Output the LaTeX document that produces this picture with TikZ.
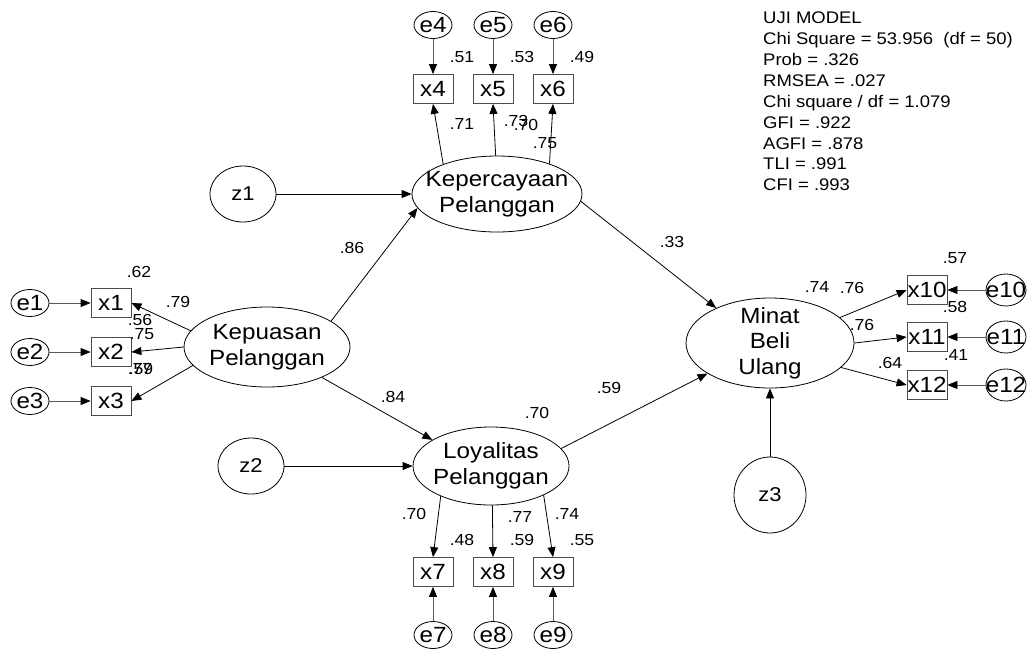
\documentclass[tikz,border=0pt]{standalone}
\usepackage{fontspec}
\setmainfont{Liberation Sans}[FakeStretch=1.1]
\usetikzlibrary{shapes.geometric,arrows.meta}
\begin{document}
\begin{tikzpicture}[x=1pt,y=-1pt,
  every node/.style={inner sep=0pt},
  lat/.style={draw, ellipse, line width=0.8pt},
  lattext/.style={align=center, font=\fontsize{22}{25.5}\selectfont},
  obs/.style={draw=black!70, rectangle, minimum width=40pt, minimum height=29pt, line width=0.8pt, font=\fontsize{22}{24}\selectfont},
  err/.style={draw, ellipse, minimum width=38pt, minimum height=27pt, line width=0.8pt, font=\fontsize{22}{24}\selectfont},
  dist/.style={draw, ellipse, line width=0.8pt, font=\fontsize{20}{24}\selectfont},
  lbl/.style={font=\fontsize{16}{18}\selectfont},
  arr/.style={-{Triangle[length=10pt,width=8pt]}, line width=0.8pt},
  earr/.style={-{Triangle[length=10pt,width=8pt,color=black]}, line width=0.8pt, draw=black!65},
]
\useasboundingbox (0,0) rectangle (1030,654);

% latent variables
\node[lat, minimum width=170pt, minimum height=76pt, label={[lattext]center:Kepercayaan\\Pelanggan}] (kc) at (497,194) {};
\node[lat, minimum width=166pt, minimum height=80pt, label={[lattext]center:Kepuasan\\Pelanggan}] (kp) at (267,347) {};
\node[lat, minimum width=156pt, minimum height=78pt, label={[lattext]center:Loyalitas\\Pelanggan}] (ly) at (491,466) {};
\node[lat, minimum width=168pt, minimum height=90pt, label={[lattext]center:Minat\\Beli\\Ulang}] (mn) at (770,343) {};

% disturbances
\node[dist, minimum width=66pt, minimum height=56pt] (z1) at (243,194) {z1};
\node[dist, minimum width=66pt, minimum height=56pt] (z2) at (251,466) {z2};
\node[dist, minimum width=72pt, minimum height=76pt] (z3) at (770,495) {z3};

% indicators left
\node[obs] (x1) at (111,303) {x1};
\node[obs] (x2) at (111,352) {x2};
\node[obs] (x3) at (111,401) {x3};
\node[err] (e1) at (30,303) {\makebox[0pt]{e1}};
\node[err] (e2) at (30,352) {\makebox[0pt]{e2}};
\node[err] (e3) at (30,401) {\makebox[0pt]{e3}};

% indicators top
\node[obs] (x4) at (433,89) {x4};
\node[obs] (x5) at (493,89) {x5};
\node[obs] (x6) at (553,89) {x6};
\node[err] (e4) at (433,25) {\makebox[0pt]{e4}};
\node[err] (e5) at (493,25) {\makebox[0pt]{e5}};
\node[err] (e6) at (553,25) {\makebox[0pt]{e6}};

% indicators bottom
\node[obs] (x7) at (433,572) {x7};
\node[obs] (x8) at (493,572) {x8};
\node[obs] (x9) at (553,572) {x9};
\node[err] (e7) at (433,635) {\makebox[0pt]{e7}};
\node[err] (e8) at (493,635) {\makebox[0pt]{e8}};
\node[err] (e9) at (553,635) {\makebox[0pt]{e9}};

% indicators right
\node[obs] (x10) at (927,290) {\makebox[0pt]{x10}};
\node[obs] (x11) at (927,337) {\makebox[0pt]{x11}};
\node[obs] (x12) at (927,385) {\makebox[0pt]{x12}};
\node[err, minimum width=40pt, minimum height=32pt] (e10) at (1006,290) {\makebox[0pt]{e10}};
\node[err, minimum width=40pt, minimum height=32pt] (e11) at (1006,337) {\makebox[0pt]{e11}};
\node[err, minimum width=40pt, minimum height=32pt] (e12) at (1006,385) {\makebox[0pt]{e12}};

% structural paths
\draw[arr] (z1) -- (kc);
\draw[arr] (z2) -- (ly);
\draw[arr] (z3) -- (mn);
\draw[arr] (kp.22) -- (kc.190);
\draw[arr] (kp.-29) -- (ly.156);
\draw[arr] (kc.-5) -- (mn.147.5);
\draw[arr] (ly.14) -- (mn.206);

% measurement paths
\draw[arr] (kp.168) -- (x1.east);
\draw[arr] (kp.180) -- (x2.east);
\draw[arr] (kp.194.6) -- (x3.east);
\draw[earr] (e1) -- (x1);
\draw[earr] (e2) -- (x2);
\draw[earr] (e3) -- (x3);

\draw[arr] (kc.151.5) -- (x4.south);
\draw[arr] (kc.92) -- (x5.south);
\draw[arr] (kc.30.8) -- (x6.south);
\draw[earr] (e4) -- (x4);
\draw[earr] (e5) -- (x5);
\draw[earr] (e6) -- (x6);

\draw[arr] (ly.211.7) -- (x7.north);
\draw[arr] (ly.-88) -- (x8.north);
\draw[arr] (ly.-29.1) -- (x9.north);
\draw[earr] (e7) -- (x7);
\draw[earr] (e8) -- (x8);
\draw[earr] (e9) -- (x9);

\draw[arr] (mn.20.4) -- (x10.west);
\draw[arr] (mn.0) -- (x11.west);
\draw[arr] (mn.-19) -- (x12.west);
\draw[earr] (e10) -- (x10);
\draw[earr] (e11) -- (x11);
\draw[earr] (e12) -- (x12);

% estimates
\node[lbl] (l62) at (139,272) {.62};
\node[lbl] (l79) at (178,302) {.79};
\node[lbl] (l56) at (140,320) {.56};
\node[lbl] (l75a) at (142,334) {.75};
\node[lbl] (l77a) at (140,369) {.77};
\node[lbl] (l59a) at (141,369) {.59};

\node[lbl] (l51) at (462,57) {.51};
\node[lbl] (l53) at (522,57) {.53};
\node[lbl] (l49) at (582,57) {.49};
\node[lbl] (l71) at (462,124) {.71};
\node[lbl] (l73) at (516,121) {.73};
\node[lbl] (l70a) at (526,125) {.70};
\node[lbl] (l75b) at (545,143) {.75};

\node[lbl] (l86) at (352,248) {.86};
\node[lbl] (l84) at (393,397) {.84};
\node[lbl] (l70b) at (537,413) {.70};
\node[lbl] (l59b) at (609,388) {.59};
\node[lbl] (l33) at (672,242) {.33};

\node[lbl] (l74a) at (817,287) {.74};
\node[lbl] (l76a) at (852,288) {.76};
\node[lbl] (l57) at (955,258) {.57};
\node[lbl] (l58) at (955,307) {.58};
\node[lbl] (l76b) at (862,325) {.76};
\node[lbl] (l41) at (956,355) {.41};
\node[lbl] (l64) at (890,363) {.64};

\node[lbl] (l70c) at (414,514) {.70};
\node[lbl] (l77b) at (520,517) {.77};
\node[lbl] (l74b) at (567,514) {.74};
\node[lbl] (l48) at (462,540) {.48};
\node[lbl] (l59c) at (522,540) {.59};
\node[lbl] (l55) at (582,540) {.55};

% fit statistics
\node[anchor=west, align=left, font=\fontsize{16.8}{20.9}\selectfont] (fit) at (763,101.5)
 {UJI MODEL\\
  Chi Square = 53.956\ \ (df = 50)\\
  Prob = .326\\
  RMSEA = .027\\
  Chi square / df = 1.079\\
  GFI = .922\\
  AGFI = .878\\
  TLI = .991\\
  CFI = .993};
\end{tikzpicture}
\end{document}
